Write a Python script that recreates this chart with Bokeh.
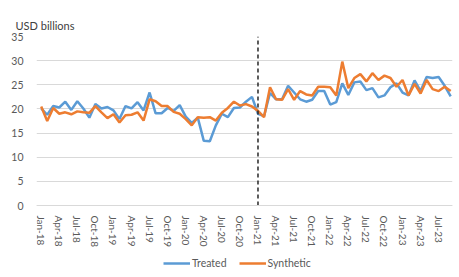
import pandas as pd
from bokeh.plotting import figure
from bokeh.models import FixedTicker, Legend, LegendItem, ColumnDataSource
from bokeh.embed import file_html
from bokeh.resources import INLINE

treated = [20.1, 18.8, 20.6, 20.3, 21.5, 19.8, 21.6, 20.1, 18.2, 21.0, 20.1, 20.4,
           19.7, 17.9, 20.6, 20.1, 21.4, 19.7, 23.4, 19.1, 19.1, 20.2, 19.6, 20.8,
           18.4, 17.1, 18.2, 13.4, 13.3, 16.6, 19.0, 18.3, 20.2, 20.3, 21.5, 22.5,
           19.0, 18.5, 23.3, 22.0, 22.0, 24.8, 23.4, 22.0, 21.5, 21.9, 23.7, 23.7,
           20.9, 21.4, 25.3, 22.9, 25.5, 25.7, 23.9, 24.3, 22.4, 22.8, 24.5, 25.3,
           23.4, 22.8, 25.9, 23.7, 26.6, 26.4, 26.6, 24.8, 22.6]
synthetic = [20.5, 17.5, 20.2, 19.0, 19.3, 18.9, 19.5, 19.3, 19.2, 20.6, 19.3, 18.1,
             18.9, 17.2, 18.7, 18.8, 19.3, 17.6, 22.0, 21.6, 20.6, 20.6, 19.4, 19.0,
             17.9, 16.6, 18.3, 18.2, 18.3, 17.6, 19.2, 20.2, 21.5, 20.7, 21.0, 20.5,
             19.6, 18.3, 24.5, 22.0, 21.9, 24.1, 21.9, 23.7, 23.0, 22.8, 24.6, 24.6,
             24.5, 22.8, 29.8, 24.3, 26.4, 27.2, 25.7, 27.4, 26.0, 26.9, 26.4, 24.6,
             26.0, 22.8, 25.2, 23.2, 26.0, 24.1, 23.7, 24.6, 23.7]
tick_labels = ["Jan-18", "Apr-18", "Jul-18", "Oct-18", "Jan-19", "Apr-19", "Jul-19",
               "Oct-19", "Jan-20", "Apr-20", "Jul-20", "Oct-20", "Jan-21", "Apr-21",
               "Jul-21", "Oct-21", "Jan-22", "Apr-22", "Jul-22", "Oct-22", "Jan-23",
               "Apr-23", "Jul-23"]
y_ticks = [0, 5, 10, 15, 20, 25, 30, 35]
intervention = "Jan-21"
y_title = "USD billions"

months = list(pd.date_range("2018-01-01", periods=len(treated), freq="MS").strftime("%b-%y"))
x = list(range(len(months)))
src = ColumnDataSource(dict(x=x, treated=treated, synthetic=synthetic, month=months))

FONT = "Lato"
TXT = "#595959"

p = figure(width=459, height=277, output_backend="svg", toolbar_location=None,
           x_range=(-0.78, len(months) - 0.7), y_range=(-14.9, max(y_ticks)),
           min_border_left=36, min_border_right=7, min_border_top=36, min_border_bottom=0)
p.title.text = y_title
p.title.align = "left"
p.title.offset = -21
p.title.text_font = FONT
p.title.text_font_size = "11px"
p.title.text_color = "#404040"
p.title.text_font_style = "normal"
p.outline_line_color = None
p.background_fill_color = "white"
p.border_fill_color = "white"

r1 = p.line("x", "treated", source=src, line_color="#5B9BD5", line_width=2.5)
r2 = p.line("x", "synthetic", source=src, line_color="#ED7D31", line_width=2.5)

ix = months.index(intervention)
p.segment(x0=[ix], y0=[min(y_ticks)], x1=[ix], y1=[max(y_ticks)],
          line_color="#262626", line_dash="4 3", line_width=1.5)

p.xgrid.grid_line_color = None
p.ygrid.grid_line_color = "#d9d9d9"
p.ygrid.grid_line_width = 1
p.yaxis.ticker = FixedTicker(ticks=y_ticks)
p.yaxis.axis_line_color = None
p.yaxis.major_tick_line_color = None
p.yaxis.minor_tick_line_color = None
p.yaxis.major_label_standoff = 7
p.yaxis.major_label_text_font = FONT
p.yaxis.major_label_text_font_size = "10.5px"
p.yaxis.major_label_text_color = TXT

p.xaxis.fixed_location = 0
p.xaxis.ticker = FixedTicker(ticks=[months.index(t) for t in tick_labels])
p.xaxis.major_label_overrides = {months.index(t): t for t in tick_labels}
p.xaxis.major_label_orientation = "vertical"
p.xaxis.axis_line_color = "#d9d9d9"
p.xaxis.major_tick_line_color = None
p.xaxis.minor_tick_line_color = None
p.xaxis.major_label_standoff = 4
p.xaxis.major_label_text_font = FONT
p.xaxis.major_label_text_font_size = "10px"
p.xaxis.major_label_text_color = TXT

legend = Legend(items=[LegendItem(label="Treated", renderers=[r1]),
                       LegendItem(label="Synthetic", renderers=[r2])],
                orientation="horizontal", location=(127, 8),
                border_line_color=None, background_fill_alpha=0,
                glyph_width=27, glyph_height=12, label_standoff=2, spacing=12,
                padding=0, margin=0,
                label_text_font=FONT, label_text_font_size="10.5px",
                label_text_color=TXT)
p.add_layout(legend, "center")

open("out.html", "w").write(file_html(p, INLINE))
